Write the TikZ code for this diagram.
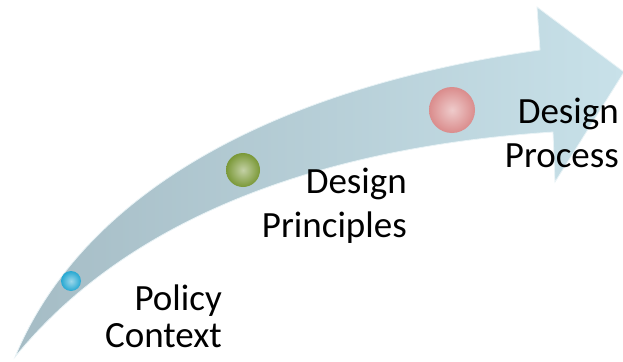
\documentclass[tikz,border=0pt]{standalone}
\usepackage{fontspec}
\setmainfont{Carlito}
\usetikzlibrary{positioning}

\definecolor{shafttail}{RGB}{165,188,197}
\definecolor{shafthead}{RGB}{200,225,233}
\definecolor{beadblue}{RGB}{38,168,210}
\definecolor{beadgreen}{RGB}{122,152,55}
\definecolor{beadpink}{RGB}{218,140,140}

\begin{document}
\begin{tikzpicture}[x=1pt,y=-1pt,
    stage/.style={font=\fontsize{37}{44}\selectfont, align=right, anchor=base east, inner sep=0pt},
    bead/.style={circle, inner sep=0pt, shading=radial, inner color=#1!45!white, outer color=#1}]

    \useasboundingbox (0,0) rectangle (623,361);

    % Curved arrow
    \coordinate (tail) at (15,357);
    \coordinate (topjoin) at (540,50);
    \coordinate (topbarb) at (537,7);
    \coordinate (tip) at (624,72);
    \coordinate (lowbarb) at (555,182);
    \coordinate (lowjoin) at (553,132);
    \shade[left color=shafttail, right color=shafthead, draw=white!60!shafthead, line width=0.8pt]
        (tail) .. controls (80,200) and (260,90) .. (topjoin) -- (topbarb) -- (tip)
        -- (lowbarb) -- (lowjoin) .. controls (280,150) and (110,240) .. (tail) -- cycle;

    % Beads along the shaft
    \node[bead=beadblue, minimum size=20pt] (ctxbead) at (71,281) {};
    \node[bead=beadgreen, minimum size=34pt] (prnbead) at (243,170) {};
    \node[bead=beadpink, minimum size=46pt] (prcbead) at (452,110) {};

    % Stage labels (base = last line)
    \node[stage, font=\fontsize{37}{37}\selectfont] (policy) at (222,347) {Policy\\Context};
    \node[stage] (principles) at (407,237) {Design\\Principles};
    \node[stage] (process) at (619,167) {Design\\Process};

\end{tikzpicture}
\end{document}
